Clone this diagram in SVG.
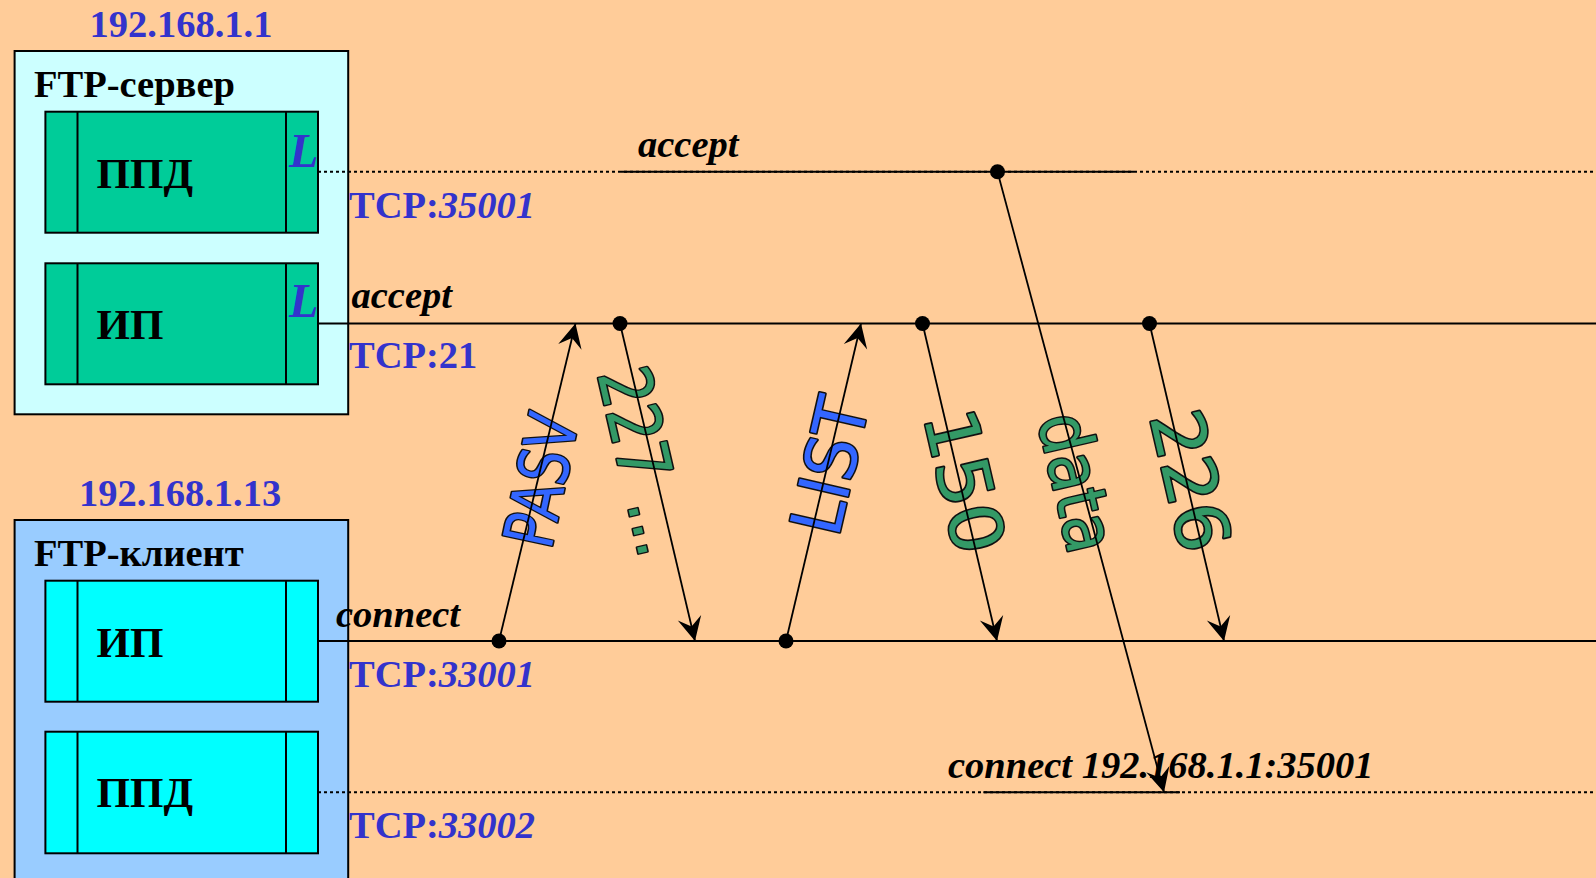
<svg xmlns="http://www.w3.org/2000/svg" width="1596" height="878" viewBox="0 0 1596 878">
<defs>
<marker id="ah" markerUnits="userSpaceOnUse" viewBox="-26 -14 28 28" markerWidth="28" markerHeight="28" refX="0" refY="0" orient="auto">
<path d="M0,0 L-24,-12 L-15,0 L-24,12 Z" fill="#000"/>
</marker>
<style>
.box{stroke:#000;stroke-width:2}
.srv{fill:#ccffff}
.cli{fill:#99ccff}
.gm{fill:#00cc99}
.cm{fill:#00ffff}
.ip{font-family:"Liberation Serif",serif;font-weight:bold;font-size:38.5px;fill:#3333cc}
.ttl{font-family:"Liberation Serif",serif;font-weight:bold;font-size:38.5px;fill:#000}
.mod{font-family:"Liberation Serif",serif;font-weight:bold;font-size:43px;fill:#000}
.L{font-family:"Liberation Serif",serif;font-weight:bold;font-style:italic;font-size:48px;fill:#3333cc}
.it{font-style:italic}
.op{font-family:"Liberation Serif",serif;font-weight:bold;font-style:italic;font-size:38.5px;fill:#000}
.ln{stroke:#000;stroke-width:2;fill:none}
.dl{stroke:#000;stroke-width:2;fill:none;stroke-dasharray:3 3}
.arr{stroke:#000;stroke-width:1.8;fill:none;marker-end:url(#ah)}
.msg{font-family:"DejaVu Sans",sans-serif;stroke:#111;stroke-width:3.2;paint-order:stroke;stroke-linejoin:round;text-anchor:middle}
.blue{fill:#3366ff}
.green{fill:#339966}
</style>
</defs>
<rect width="1596" height="878" fill="#ffcc99"/>

<g id="server">
<rect class="box srv" x="14.6" y="51" width="333.6" height="363.3"/>
<text class="ip" x="89.5" y="37">192.168.1.1</text>
<text class="ttl" x="34" y="97">FTP-сервер</text>
<g id="server-ppd">
<rect class="box gm" x="45.4" y="111.7" width="272.6" height="121"/>
<line class="ln" x1="77.5" y1="111.7" x2="77.5" y2="232.7"/>
<line class="ln" x1="286" y1="111.7" x2="286" y2="232.7"/>
<text class="mod" x="96.5" y="188">ППД</text>
<text class="L" x="289" y="166.7">L</text>
</g>
<g id="server-ip">
<rect class="box gm" x="45.4" y="263.3" width="272.6" height="121"/>
<line class="ln" x1="77.5" y1="263.3" x2="77.5" y2="384.3"/>
<line class="ln" x1="286" y1="263.3" x2="286" y2="384.3"/>
<text class="mod" x="96.5" y="338.5">ИП</text>
<text class="L" x="289" y="316.7">L</text>
</g>
</g>

<g id="client">
<rect class="box cli" x="14.6" y="520" width="333.6" height="380"/>
<text class="ip" x="79" y="506" font-size="39.5">192.168.1.13</text>
<text class="ttl" x="34" y="566">FTP-клиент</text>
<g id="client-ip">
<rect class="box cm" x="45.4" y="580.7" width="272.6" height="121"/>
<line class="ln" x1="77.5" y1="580.7" x2="77.5" y2="701.7"/>
<line class="ln" x1="286" y1="580.7" x2="286" y2="701.7"/>
<text class="mod" x="96.5" y="656.5">ИП</text>
</g>
<g id="client-ppd">
<rect class="box cm" x="45.4" y="731.7" width="272.6" height="121.6"/>
<line class="ln" x1="77.5" y1="731.7" x2="77.5" y2="853.3"/>
<line class="ln" x1="286" y1="731.7" x2="286" y2="853.3"/>
<text class="mod" x="96.5" y="806.5">ППД</text>
</g>
</g>

<g id="labels">
<text class="ip" x="349" y="218">TCP:<tspan class="it">35001</tspan></text>
<text class="ip" x="349" y="368">TCP:21</text>
<text class="ip" x="349" y="686.5">TCP:<tspan class="it">33001</tspan></text>
<text class="ip" x="349" y="838">TCP:<tspan class="it">33002</tspan></text>
<text class="op" x="638" y="156.5">accept</text>
<text class="op" x="351.5" y="308">accept</text>
<text class="op" x="336" y="626.5">connect</text>
<text class="op" x="948" y="778" font-size="38.8">connect 192.168.1.1:35001</text>
</g>

<g id="messages">
<text class="msg blue" transform="translate(540.5,480) rotate(-78)" x="0" y="25" font-size="69" textLength="134" lengthAdjust="spacingAndGlyphs">PASV</text>
<text class="msg green" transform="translate(644,461) rotate(77)" x="0" y="26" font-size="72" textLength="191" lengthAdjust="spacingAndGlyphs">227 ...</text>
<text class="msg blue" transform="translate(829,465.5) rotate(-77)" x="0" y="25.5" font-size="70" textLength="138" lengthAdjust="spacingAndGlyphs">LIST</text>
<text class="msg green" transform="translate(965,481) rotate(77)" x="0" y="26" font-size="72" textLength="146" lengthAdjust="spacingAndGlyphs">150</text>
<text class="msg green" transform="translate(1079,482) rotate(77)" x="0" y="26.5" font-size="70" textLength="141" lengthAdjust="spacingAndGlyphs">data</text>
<text class="msg green" transform="translate(1191,480.5) rotate(77)" x="0" y="26" font-size="72" textLength="143" lengthAdjust="spacingAndGlyphs">226</text>
</g>

<g id="connectors">
<line class="dl" x1="318" y1="171.7" x2="1596" y2="171.7"/>
<line class="ln" x1="621" y1="171.7" x2="1134" y2="171.7"/>
<line class="ln" x1="318" y1="323.5" x2="1596" y2="323.5"/>
<line class="ln" x1="318" y1="641" x2="1596" y2="641"/>
<line class="dl" x1="318" y1="792.3" x2="1596" y2="792.3"/>
<line class="ln" x1="983.3" y1="792.3" x2="1180" y2="792.3"/>
<line class="arr" x1="499" y1="641" x2="575.5" y2="323.5"/>
<line class="arr" x1="620" y1="323.5" x2="695" y2="641"/>
<line class="arr" x1="786" y1="641" x2="861" y2="323.5"/>
<line class="arr" x1="922.5" y1="323.5" x2="997" y2="641"/>
<line class="arr" x1="1149.5" y1="323.5" x2="1224" y2="641"/>
<line class="arr" x1="997.5" y1="171.7" x2="1164" y2="792.3"/>
<g fill="#000">
<circle cx="499" cy="641" r="7.5"/>
<circle cx="620" cy="323.5" r="7.5"/>
<circle cx="786" cy="641" r="7.5"/>
<circle cx="922.5" cy="323.5" r="7.5"/>
<circle cx="1149.5" cy="323.5" r="7.5"/>
<circle cx="997.5" cy="171.7" r="7.5"/>
</g>
</g>
</svg>
